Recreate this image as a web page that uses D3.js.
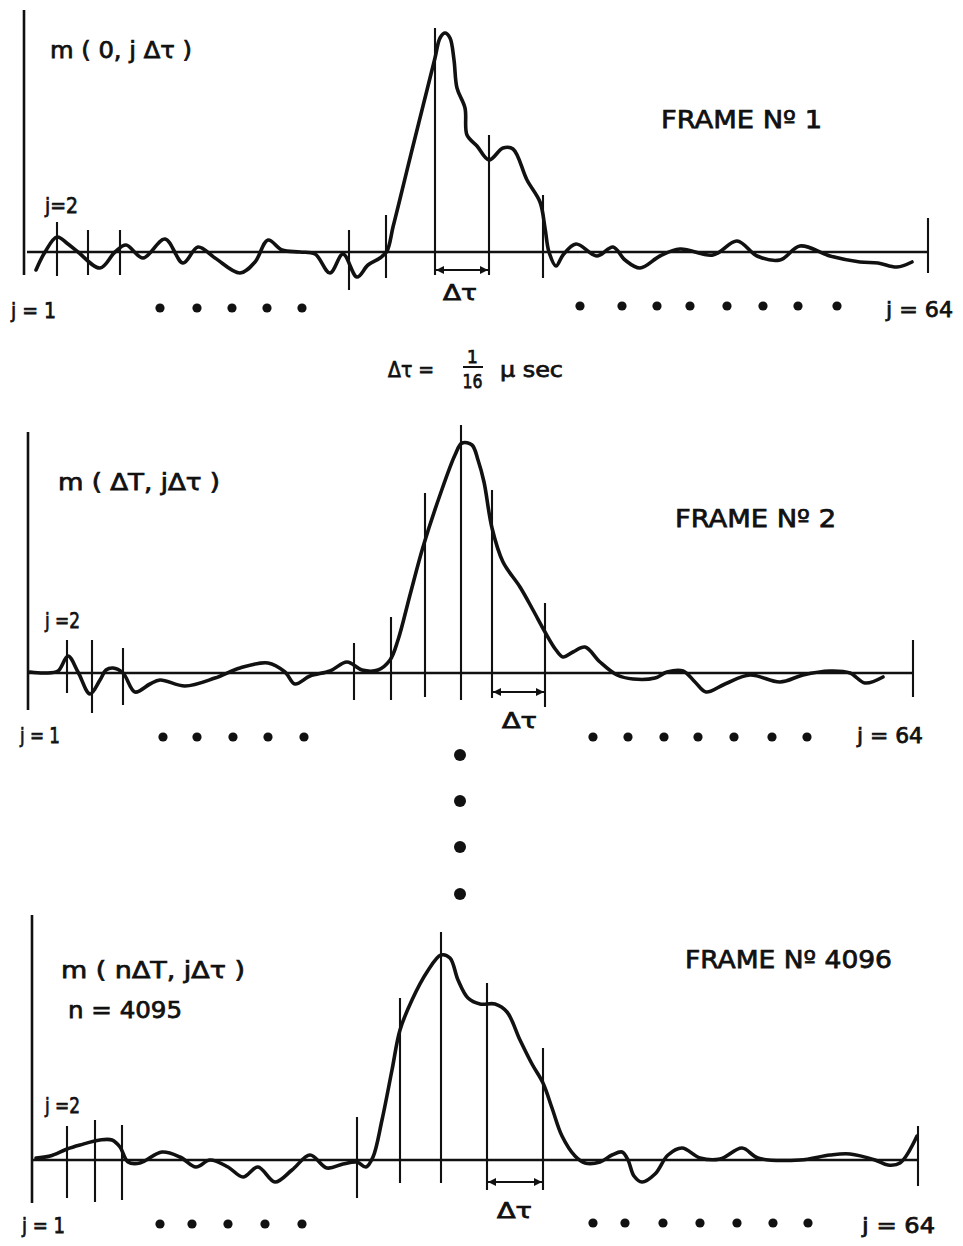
<!DOCTYPE html>
<html>
<head>
<meta charset="utf-8">
<script src="https://cdn.jsdelivr.net/npm/d3@7"></script>
<style>
  html, body { margin: 0; padding: 0; background: #ffffff; }
  svg { display: block; }
  text { font-family: "DejaVu Sans", sans-serif; fill: #111; stroke: #111; stroke-width: 0.75px; }
</style>
</head>
<body>
<svg id="chart" width="963" height="1246"></svg>
<script>
// ---------- DATA (x in abscissa units along the j axis, y in amplitude units) ----------
// Frame 1 : m(0, jΔτ)
const frame1X = [1.6,2.5,3.7,4.8,5.8,8.0,9.5,10.6,12.3,14.5,16.3,17.8,19.5,22.0,23.5,24.8,26.2,28.0,29.5,31.0,32.3,33.7,34.8,36.0,36.7,37.3,37.9,39.1,40.3,41.5,42.0,42.5,43.0,43.4,43.7,44.5,44.7,45.7,46.9,48.3,49.3,50.7,52.0,52.5,52.9,53.6,54.3,55.6,57.7,59.3,60.5,62.0,64.0,66.0,69.3,71.7,73.7,76.0,78.0,81.0,84.0,85.8,87.7,89.2];
const frame1Y = [-1.8,0,1.5,0.8,0,-1.6,0,0.7,-0.6,1.3,-1.1,0.5,-0.6,-2.1,-1.0,1.2,0.2,0,-0.2,-2.1,-0.2,-2.5,-1.3,-0.6,0.1,2.5,4.9,9.8,14.6,19.4,21.4,21.9,21.4,19.2,16.4,14.4,11.7,10.6,9.2,10.4,10.3,7.2,5.0,2.4,0,-1.4,-0.3,0.8,-0.4,0.5,-0.8,-1.6,-0.4,0.3,-0.3,1.1,-0.4,-0.8,0.6,-0.4,-1.0,-1.1,-1.5,-1.0];
const frame1TickX      = [3.7,6.8,10.0,32.9,36.6,41.5,46.9,52.3,90.8];
const frame1TickTop    = [3.0,2.2,2.2,2.2,3.7,22.4,11.7,5.7,3.4];
const frame1TickBottom = [-2.4,-2.3,-2.3,-3.8,-2.6,-2.3,-2.3,-2.6,-2.1];
const frame1LeftDots  = [14.0,17.7,21.2,24.7,28.2];
const frame1RightDots = [56.0,60.2,63.7,67.0,70.7,74.3,77.8,81.7];

// Frame 2 : m(ΔT, jΔτ)
const frame2X = [1.0,2.5,3.8,4.8,5.8,7.0,8.0,8.6,9.3,10.3,11.5,13.0,14.0,16.5,19.5,22.0,24.8,26.5,27.5,29.0,31.0,32.7,34.2,35.8,37.0,37.8,39.0,40.3,42.0,43.5,44.2,45.2,45.8,46.4,47.2,48.3,50.0,51.3,52.5,53.6,54.3,55.3,56.5,58.0,59.7,61.3,63.5,64.7,66.3,67.5,68.6,70.5,73.0,76.0,78.3,81.0,83.0,84.5,86.3];
const frame2Y = [0.1,0,0.2,1.7,0.1,-2.1,-0.7,0.3,0.5,0,-1.9,-1.1,-0.7,-1.3,-0.5,0.5,1.0,0.1,-1.1,-0.3,0.2,1.1,0.3,0.3,1.3,3.3,7.8,12.6,17.8,21.8,23.0,22.8,21.3,19.1,14.5,11.1,8.6,6.3,4.1,2.3,1.6,2.1,2.6,1.1,-0.2,-0.6,-0.5,0.1,0.2,-0.9,-1.9,-1.1,-0.2,-0.9,-0.2,0.2,0,-1.0,-0.4];
const frame2TickX      = [4.7,7.2,10.3,33.4,37.1,40.5,44.1,47.2,52.5,89.3];
const frame2TickTop    = [3.3,3.3,2.5,3.0,5.6,18.0,24.8,18.3,7.0,3.3];
const frame2TickBottom = [-2.0,-4.0,-3.2,-2.7,-2.7,-2.4,-2.7,-2.5,-3.4,-2.4];
const frame2LeftDots  = [14.3,17.7,21.3,24.8,28.4];
const frame2RightDots = [57.3,60.8,64.4,67.8,71.4,75.2,78.7];

// Frame 4096 : m(nΔT, jΔτ), n = 4095
const frame3X = [1.6,3.0,4.7,6.0,8.0,9.2,10.0,10.8,12.0,14.2,16.0,17.6,19.0,20.8,22.3,23.8,25.5,27.2,29.0,30.7,32.3,33.7,34.6,35.3,36.2,37.2,38.0,39.2,40.7,42.1,43.0,43.8,44.8,46.0,47.5,48.7,50.0,51.2,52.3,53.2,54.2,55.5,56.5,58.0,59.2,60.2,60.8,61.4,62.2,63.5,64.8,66.2,68.0,70.0,72.2,73.8,78.0,81.0,83.0,85.5,86.8,88.0,89.7];
const frame3Y = [0.2,0.4,1.1,1.5,2.0,2.0,1.3,-0.2,-0.3,0.8,0.3,-0.7,0,-0.7,-1.7,-0.7,-2.2,-1.0,0.5,-0.8,-0.4,-0.2,-0.7,0.3,4.0,9.0,13.0,16.0,18.8,20.5,20.2,18.0,16.2,15.6,15.6,14.8,12.0,9.6,7.7,5.2,2.4,0.4,-0.3,-0.2,0.5,0.8,0,-1.6,-2.2,-1.4,0.5,1.2,0.2,0.1,1.2,0.2,0,0.5,0.6,0,-0.5,-0.3,2.4];
const frame3TickX      = [4.7,7.5,10.2,33.7,38.0,42.1,46.7,52.3,89.8];
const frame3TickTop    = [3.4,4.0,3.5,4.3,16.2,22.8,17.7,11.2,3.4];
const frame3TickBottom = [-3.8,-4.2,-4.0,-3.8,-2.3,-2.3,-3.0,-3.0,-2.6];
const frame3LeftDots  = [14.0,17.2,20.8,24.5,28.2];
const frame3RightDots = [57.3,60.5,64.3,68.0,71.7,75.3,78.8];

// Axes extents per frame: [left axis x, axis top, axis bottom, baseline start, baseline end]
const frameAxes = [[0.4,24.2,-2.3,0.7,90.8],[0.8,24.1,-3.7,0.8,89.3],[1.2,24.5,-4.3,1.2,89.8]];
// Δτ interval marker per frame: [from, to, level]
const deltaMarks = [[41.5,46.9,-1.8],[47.2,52.5,-1.9],[46.7,52.3,-2.2]];
const frameTitles = ["FRAME  N\u00BA 1", "FRAME  N\u00BA 2", "FRAME  N\u00BA 4096"];
const curveLabels = ["m ( 0, j \u0394\u03C4 )", "m ( \u0394T, j\u0394\u03C4 )", "m ( n\u0394T, j\u0394\u03C4 )"];

// ---------- LAYOUT ----------
const svg = d3.select("#chart");
const x = d3.scaleLinear().domain([0, 90]).range([20, 920]);
const baselines = [252, 673, 1160];

const frames = [
  {X: frame1X, Y: frame1Y, tx: frame1TickX, tt: frame1TickTop, tb: frame1TickBottom, ld: frame1LeftDots, rd: frame1RightDots, ldY: -5.6, rdY: -5.4},
  {X: frame2X, Y: frame2Y, tx: frame2TickX, tt: frame2TickTop, tb: frame2TickBottom, ld: frame2LeftDots, rd: frame2RightDots, ldY: -6.4, rdY: -6.4},
  {X: frame3X, Y: frame3Y, tx: frame3TickX, tt: frame3TickTop, tb: frame3TickBottom, ld: frame3LeftDots, rd: frame3RightDots, ldY: -6.4, rdY: -6.3}
];

// arrowheads
const defs = svg.append("defs");
defs.append("marker").attr("id", "arrEnd").attr("viewBox", "0 0 10 10")
  .attr("refX", 10).attr("refY", 5).attr("markerWidth", 5).attr("markerHeight", 4)
  .attr("markerUnits", "strokeWidth").attr("orient", "auto")
  .append("path").attr("d", "M0,0 L10,5 L0,10 Z").attr("fill", "#111");
defs.append("marker").attr("id", "arrStart").attr("viewBox", "0 0 10 10")
  .attr("refX", 0).attr("refY", 5).attr("markerWidth", 5).attr("markerHeight", 4)
  .attr("markerUnits", "strokeWidth").attr("orient", "auto")
  .append("path").attr("d", "M10,0 L0,5 L10,10 Z").attr("fill", "#111");

frames.forEach((f, i) => {
  const base = baselines[i];
  const y = d3.scaleLinear().domain([0, 25]).range([base, base - 250]);
  const g = svg.append("g");
  const ax = frameAxes[i];

  // left (ordinate) axis
  g.append("line").attr("x1", x(ax[0])).attr("x2", x(ax[0]))
    .attr("y1", y(ax[1])).attr("y2", y(ax[2]))
    .attr("stroke", "#111").attr("stroke-width", 2.6);
  // baseline
  g.append("line").attr("x1", x(ax[3])).attr("x2", x(ax[4]))
    .attr("y1", y(0)).attr("y2", y(0))
    .attr("stroke", "#111").attr("stroke-width", 2.6);

  // sample (j) tick lines
  g.selectAll("line.tick").data(f.tx).enter().append("line")
    .attr("class", "tick")
    .attr("x1", d => x(d)).attr("x2", d => x(d))
    .attr("y1", (d, k) => y(f.tt[k])).attr("y2", (d, k) => y(f.tb[k]))
    .attr("stroke", "#111").attr("stroke-width", 2.1);

  // curve
  const pts = f.X.map((v, k) => [v, f.Y[k]]);
  const line = d3.line().x(d => x(d[0])).y(d => y(d[1])).curve(d3.curveCatmullRom.alpha(0.5));
  g.append("path").attr("d", line(pts))
    .attr("fill", "none").attr("stroke", "#111").attr("stroke-width", 3.6)
    .attr("stroke-linejoin", "round").attr("stroke-linecap", "round");

  // Δτ interval arrow
  const dm = deltaMarks[i];
  g.append("line").attr("x1", x(dm[0]) + 1).attr("x2", x(dm[1]) - 1)
    .attr("y1", y(dm[2])).attr("y2", y(dm[2]))
    .attr("stroke", "#111").attr("stroke-width", 2)
    .attr("marker-start", "url(#arrStart)").attr("marker-end", "url(#arrEnd)");

  // ellipsis dots
  g.selectAll("circle.ld").data(f.ld).enter().append("circle")
    .attr("cx", d => x(d)).attr("cy", y(f.ldY)).attr("r", 4.6).attr("fill", "#111");
  g.selectAll("circle.rd").data(f.rd).enter().append("circle")
    .attr("cx", d => x(d)).attr("cy", y(f.rdY)).attr("r", 4.6).attr("fill", "#111");
});

// ---------- TEXT ----------
function txt(s, px, py, size, len, anchor) {
  const t = svg.append("text").attr("x", px).attr("y", py).attr("font-size", size)
    .attr("text-anchor", anchor || "start").text(s);
  if (len) t.attr("textLength", len).attr("lengthAdjust", "spacingAndGlyphs");
  return t;
}
// Frame 1
txt(curveLabels[0], 50, 58, 23, 142);
txt(frameTitles[0], 661, 128, 24.5, 161);
txt("j=2", 45, 213, 21, 33);
txt("j = 1", 11, 318, 21, 45);
txt("j = 64", 886, 317, 21, 67);
txt("\u0394\u03C4", 443, 300, 22, 34);
// Frame 2
txt(curveLabels[1], 58, 490, 23, 162);
txt(frameTitles[1], 675, 527, 24.5, 161);
txt("j =2", 45, 628, 21, 35);
txt("j = 1", 20, 743, 21, 40);
txt("j = 64", 857, 743, 21, 66);
txt("\u0394\u03C4", 502, 728, 22, 35);
// Frame 4096
txt(curveLabels[2], 61, 978, 23, 184);
txt("n  = 4095", 68, 1018, 23, 114);
txt(frameTitles[2], 685, 968, 24.5, 207);
txt("j =2", 45, 1113, 21, 35);
txt("j = 1", 22, 1233, 21, 43);
txt("j = 64", 862, 1233, 21, 73);
txt("\u0394\u03C4", 497, 1218, 22, 35);

// Δτ definition
txt("\u0394\u03C4 =", 388, 377, 21, 46);
txt("1", 472.5, 363, 17, null, "middle");
svg.append("line").attr("x1", 463).attr("x2", 483).attr("y1", 367).attr("y2", 367)
  .attr("stroke", "#111").attr("stroke-width", 2);
txt("16", 472.5, 388, 20, 20, "middle");
txt("\u03BC sec", 500, 377, 21, 63);

// vertical ellipsis between frames
const gapDotsY = [755, 801, 847, 894];
svg.selectAll("circle.gap").data(gapDotsY).enter().append("circle")
  .attr("cx", 460).attr("cy", d => d).attr("r", 6).attr("fill", "#111");
</script>
</body>
</html>
